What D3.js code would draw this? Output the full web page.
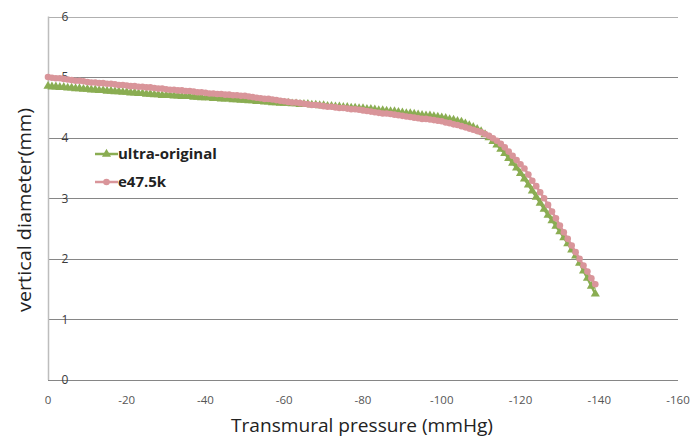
<!DOCTYPE html>
<html><head><meta charset="utf-8">
<script src="https://cdn.jsdelivr.net/npm/d3@7"></script>
<style>body{margin:0;background:#fff}svg{display:block}</style>
</head><body><svg id="c" width="691" height="438"></svg>
<script>
const pressure = [0,-1,-2,-3,-4,-5,-6,-7,-8,-9,-10,-11,-12,-13,-14,-15,-16,-17,-18,-19,-20,-21,-22,-23,-24,-25,-26,-27,-28,-29,-30,-31,-32,-33,-34,-35,-36,-37,-38,-39,-40,-41,-42,-43,-44,-45,-46,-47,-48,-49,-50,-51,-52,-53,-54,-55,-56,-57,-58,-59,-60,-61,-62,-63,-64,-65,-66,-67,-68,-69,-70,-71,-72,-73,-74,-75,-76,-77,-78,-79,-80,-81,-82,-83,-84,-85,-86,-87,-88,-89,-90,-91,-92,-93,-94,-95,-96,-97,-98,-99,-100,-101,-102,-103,-104,-105,-106,-107,-108,-109,-110,-111,-112,-113,-114,-115,-116,-117,-118,-119,-120,-121,-122,-123,-124,-125,-126,-127,-128,-129,-130,-131,-132,-133,-134,-135,-136,-137,-138,-139];
const ultraOriginal = [4.85,4.84,4.84,4.83,4.83,4.82,4.82,4.81,4.81,4.80,4.80,
4.79,4.79,4.78,4.78,4.77,4.77,4.76,4.76,4.75,4.75,
4.74,4.74,4.73,4.73,4.72,4.72,4.71,4.71,4.70,4.70,
4.70,4.69,4.69,4.68,4.68,4.68,4.67,4.67,4.66,4.66,
4.66,4.65,4.65,4.64,4.64,4.64,4.63,4.63,4.62,4.62,
4.61,4.61,4.60,4.60,4.59,4.59,4.58,4.58,4.57,4.57,
4.57,4.56,4.56,4.55,4.55,4.55,4.54,4.54,4.53,4.53,
4.52,4.52,4.51,4.51,4.50,4.50,4.49,4.49,4.48,4.48,
4.47,4.47,4.46,4.45,4.45,4.44,4.43,4.43,4.42,4.41,
4.40,4.40,4.39,4.38,4.37,4.36,4.36,4.35,4.34,4.33,
4.32,4.30,4.29,4.27,4.26,
4.23,4.20,4.17,4.14,4.10,
4.05,4.00,3.94,3.88,3.81,
3.74,3.66,3.58,3.50,3.41,
3.32,3.22,3.12,3.02,
2.92,2.82,2.72,2.63,2.54,2.45,
2.35,2.25,2.15,2.05,
1.93,1.80,1.68,1.55,1.42];
const e47_5k = [5.00,4.99,4.98,4.98,4.97,4.96,4.95,4.94,4.94,4.93,4.92,
4.91,4.91,4.90,4.90,4.89,4.89,4.88,4.87,4.87,4.86,
4.85,4.85,4.84,4.84,4.83,4.83,4.82,4.81,4.81,4.80,
4.79,4.79,4.78,4.78,4.77,4.77,4.76,4.75,4.75,4.74,
4.73,4.73,4.72,4.72,4.71,4.71,4.70,4.70,4.69,4.69,
4.68,4.67,4.66,4.65,4.64,4.64,4.63,4.62,4.61,4.60,
4.59,4.58,4.58,4.57,4.56,4.55,4.54,4.54,4.53,4.52,
4.51,4.51,4.50,4.49,4.49,4.48,4.47,4.47,4.46,4.45,
4.44,4.43,4.42,4.41,4.40,4.40,4.39,4.38,4.37,4.36,
4.35,4.34,4.33,4.32,4.31,4.31,4.30,4.29,4.28,4.27,
4.25,4.24,4.22,4.21,4.19,
4.17,4.15,4.13,4.11,4.09,
4.06,4.03,3.99,3.95,3.90,
3.84,3.77,3.70,3.63,3.56,
3.49,3.39,3.29,3.20,3.10,3.00,
2.89,2.78,2.67,2.55,
2.44,2.33,2.22,2.11,2.00,
1.89,1.79,1.68,1.58];
const xTicks = [0,-20,-40,-60,-80,-100,-120,-140,-160];
const yTicks = [0,1,2,3,4,5,6];
const seriesNames = ["ultra-original","e47.5k"];
const seriesColors = ["#8aad52","#d9959a"];

const svg = d3.select("#c");
const x = d3.scaleLinear().domain([0,-160]).range([48,678]);
const y = d3.scaleLinear().domain([0,6]).range([380,16.5]);
const font = "'Open Sans', 'Liberation Sans', sans-serif";

// gridlines
svg.append("g").selectAll("line").data(yTicks).join("line")
  .attr("x1",48).attr("x2",678)
  .attr("y1",d=>Math.round(y(d))+0.5).attr("y2",d=>Math.round(y(d))+0.5)
  .attr("stroke",d=>d===6?"#b0b0b0":"#868686").attr("stroke-width",1.2);
// left axis line
svg.append("line").attr("x1",48.5).attr("x2",48.5).attr("y1",y(6)).attr("y2",y(0))
  .attr("stroke","#bdbdbd").attr("stroke-width",1.5);

// y tick labels
svg.append("g").selectAll("text").data(yTicks).join("text")
  .attr("x",65).attr("y",d=>y(d)).attr("dy","0.36em")
  .attr("text-anchor","middle").attr("font-family",font).attr("font-size",12)
  .attr("fill","#3a3a3a").text(d=>d);
// x tick labels
svg.append("g").selectAll("text").data(xTicks).join("text")
  .attr("x",d=>x(d)).attr("y",400).attr("dy","0.36em")
  .attr("text-anchor","middle").attr("font-family",font).attr("font-size",11.5)
  .attr("fill","#555").text(d=>d);

// axis titles
svg.append("text").attr("x",362).attr("y",432).attr("text-anchor","middle")
  .attr("font-family",font).attr("font-size",18).attr("fill","#222")
  .attr("textLength",262).attr("lengthAdjust","spacingAndGlyphs")
  .text("Transmural pressure (mmHg)");
svg.append("text").attr("transform","translate(31,210) rotate(-90)")
  .attr("text-anchor","middle").attr("font-family",font).attr("font-size",18).attr("fill","#222")
  .attr("textLength",204).attr("lengthAdjust","spacingAndGlyphs")
  .text("vertical diameter(mm)");

const series = [ultraOriginal, e47_5k];
const line = d3.line().x((d,i)=>x(pressure[i])).y(d=>y(d)).curve(d3.curveMonotoneX);
const tri = d3.symbol().type(d3.symbolTriangle).size(36);

series.forEach((vals,k)=>{
  const g = svg.append("g");
  g.append("path").datum(vals).attr("d",line).attr("fill","none")
    .attr("stroke",seriesColors[k]).attr("stroke-width",2.5);
  if(k===0){
    g.selectAll("path.m").data(vals).join("path").attr("class","m")
      .attr("d",tri).attr("transform",(d,i)=>`translate(${x(pressure[i])},${y(d)})`)
      .attr("fill",seriesColors[k]);
  } else {
    g.selectAll("circle").data(vals).join("circle")
      .attr("cx",(d,i)=>x(pressure[i])).attr("cy",d=>y(d)).attr("r",3.3)
      .attr("fill",seriesColors[k]);
  }
});

// legend
const legY = [154,182];
seriesNames.forEach((n,k)=>{
  const g = svg.append("g");
  g.append("line").attr("x1",95).attr("x2",118).attr("y1",legY[k]).attr("y2",legY[k])
    .attr("stroke",seriesColors[k]).attr("stroke-width",2.5);
  if(k===0) g.append("path").attr("d",tri).attr("transform",`translate(106.5,${legY[k]})`).attr("fill",seriesColors[k]);
  else g.append("circle").attr("cx",106.5).attr("cy",legY[k]).attr("r",3.3).attr("fill",seriesColors[k]);
  g.append("text").attr("x",118).attr("y",legY[k]).attr("dy","0.35em")
    .attr("font-family",font).attr("font-weight","bold").attr("font-size",15).attr("fill","#222")
    .text(n);
});
</script></body></html>
